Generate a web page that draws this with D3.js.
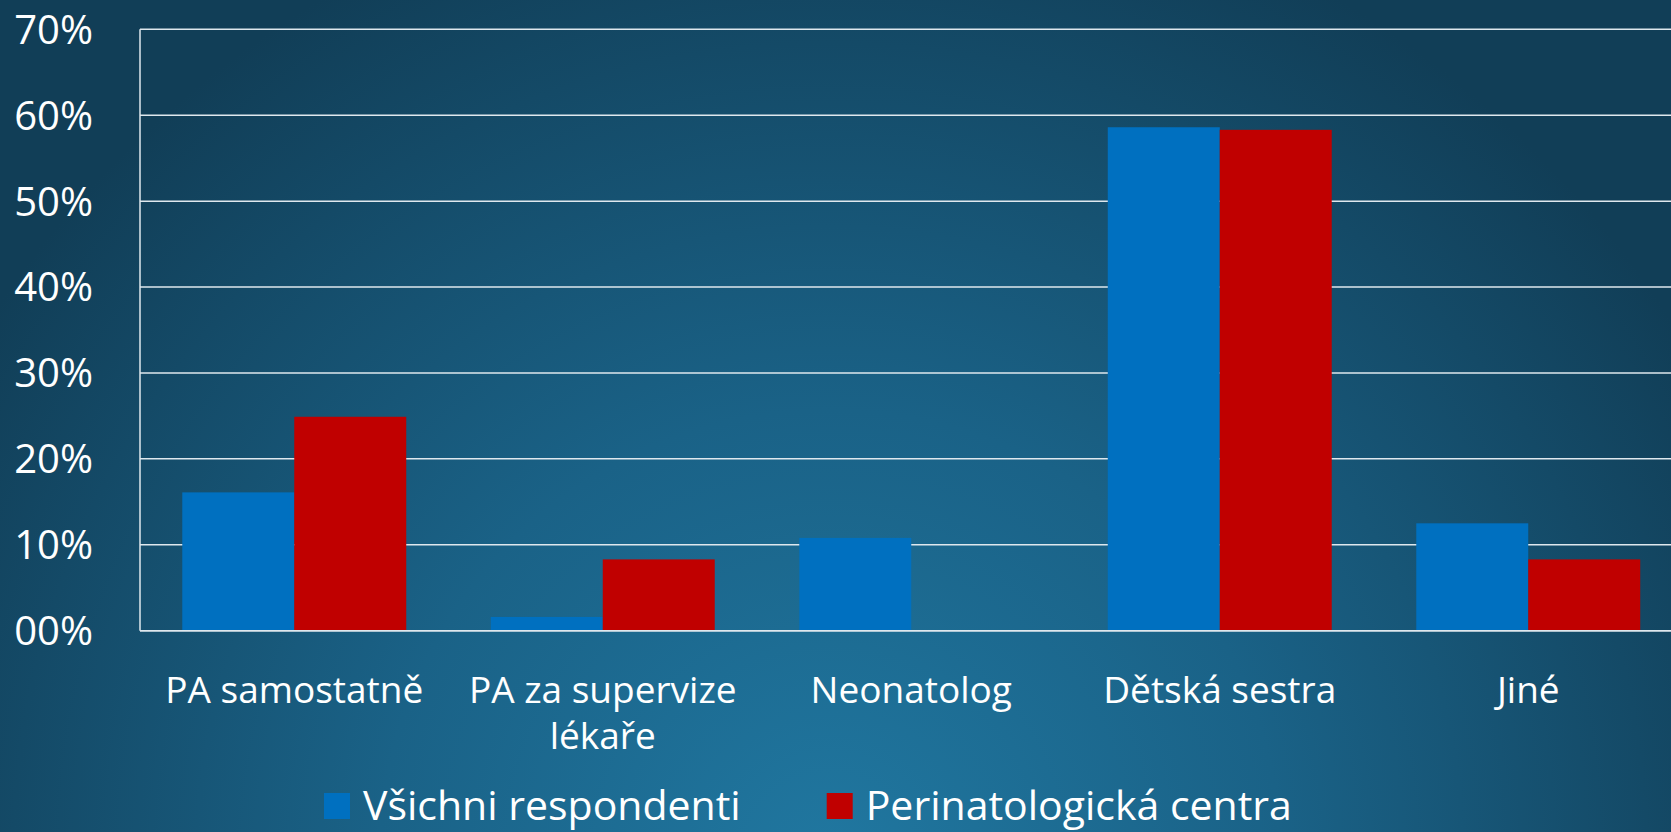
<!DOCTYPE html>
<html>
<head>
<meta charset="utf-8">
<script src="https://cdn.jsdelivr.net/npm/d3@7"></script>
<style>
  html, body { margin: 0; padding: 0; overflow: hidden; background: #134560; }
  svg { display: block; font-family: "Open Sans", sans-serif; }
</style>
</head>
<body>
<div id="chart"></div>
<script>
const CATEGORIES = ["PA samostatně", "PA za supervize lékaře", "Neonatolog", "Dětská sestra", "Jiné"];
const SERIES = ["Všichni respondenti", "Perinatologická centra"];
const ALL_RESPONDENTS = [0.161, 0.016, 0.108, 0.586, 0.125];
const PERINATAL_CENTRES = [0.249, 0.083, 0, 0.583, 0.083];
const Y_TICKS = [0, 0.1, 0.2, 0.3, 0.4, 0.5, 0.6, 0.7];
const COLORS = ["#0070c0", "#c00000"];

const WIDTH = 1671;
const HEIGHT = 832;

const data = CATEGORIES.map((name, i) => ({
  name,
  values: [ALL_RESPONDENTS[i], PERINATAL_CENTRES[i]]
}));

const svg = d3.select("#chart")
              .append("svg")
              .attr("width", WIDTH)
              .attr("height", HEIGHT);

// background: dark navy at the top, lighter teal glow at the bottom centre
const grad = svg.append("defs")
                .append("radialGradient")
                .attr("id", "bg")
                .attr("gradientUnits", "userSpaceOnUse")
                .attr("cx", 830).attr("cy", 860)
                .attr("r", 1000);
grad.append("stop").attr("offset", "0%").attr("stop-color", "#2077a0");
grad.append("stop").attr("offset", "45%").attr("stop-color", "#1a6287");
grad.append("stop").attr("offset", "100%").attr("stop-color", "#113e57");

svg.append("rect")
   .attr("width", WIDTH)
   .attr("height", HEIGHT)
   .attr("fill", "url(#bg)");

const x = d3.scaleBand()
            .domain(CATEGORIES)
            .range([140, 1682.5])
            .paddingInner(0.274)
            .paddingOuter(0.137);

const xSeries = d3.scaleBand()
                  .domain(SERIES)
                  .range([0, x.bandwidth()]);

const y = d3.scaleLinear()
            .domain([0, 0.7])
            .range([630.7, 29.3]);

// gridlines
svg.append("g")
   .selectAll("line")
   .data(Y_TICKS)
   .join("line")
   .attr("x1", 140)
   .attr("x2", WIDTH)
   .attr("y1", d => y(d))
   .attr("y2", d => y(d))
   .attr("stroke", "#dfe8ee")
   .attr("stroke-width", 1.5);

svg.append("line")
   .attr("x1", 140).attr("x2", 140)
   .attr("y1", y(0.7)).attr("y2", y(0))
   .attr("stroke", "#dfe8ee")
   .attr("stroke-width", 1.5);

// y tick labels
const fmt = d => String(Math.round(d * 100)).padStart(2, "0") + "%";
svg.append("g")
   .selectAll("text")
   .data(Y_TICKS)
   .join("text")
   .attr("x", 93)
   .attr("y", d => y(d))
   .attr("dy", "0.36em")
   .attr("text-anchor", "end")
   .attr("fill", "#ffffff")
   .style("font-size", "40px")
   .text(fmt);

// bars
const groups = svg.append("g")
                  .selectAll("g")
                  .data(data)
                  .join("g")
                  .attr("transform", d => `translate(${x(d.name)},0)`);

groups.selectAll("rect")
      .data(d => d.values.map((v, j) => ({ series: SERIES[j], value: v, j })))
      .join("rect")
      .attr("x", d => xSeries(d.series))
      .attr("width", xSeries.bandwidth())
      .attr("y", d => y(d.value))
      .attr("height", d => y(0) - y(d.value))
      .attr("fill", d => COLORS[d.j]);

// redraw baseline over bars
svg.append("line")
   .attr("x1", 140).attr("x2", WIDTH)
   .attr("y1", y(0)).attr("y2", y(0))
   .attr("stroke", "#dfe8ee")
   .attr("stroke-width", 1.5);

// category labels, wrapped to band width
const labels = svg.append("g")
                  .selectAll("text")
                  .data(CATEGORIES)
                  .join("text")
                  .attr("x", d => x(d) + x.bandwidth() / 2)
                  .attr("y", 703)
                  .attr("text-anchor", "middle")
                  .attr("fill", "#ffffff")
                  .style("font-size", "37px")
                  .text(d => d);

const wrap = (textSel, maxWidth) => {
  textSel.each(function () {
    const text = d3.select(this);
    const words = text.text().split(" ");
    const cx = text.attr("x");
    text.text(null);
    let line = [];
    let tspan = text.append("tspan").attr("x", cx);
    words.forEach(word => {
      line.push(word);
      tspan.text(line.join(" "));
      if (tspan.node().getComputedTextLength() > maxWidth && line.length > 1) {
        line.pop();
        tspan.text(line.join(" "));
        line = [word];
        tspan = text.append("tspan").attr("x", cx).attr("dy", "1.25em").text(word);
      }
    });
  });
};
labels.call(wrap, x.step() * 0.9);

// legend
const legend = svg.append("g").attr("transform", "translate(324,793)");
let offset = 0;
SERIES.forEach((name, i) => {
  const item = legend.append("g").attr("transform", `translate(${offset},0)`);
  item.append("rect")
      .attr("width", 26)
      .attr("height", 26)
      .attr("fill", COLORS[i]);
  const t = item.append("text")
                .attr("x", 39)
                .attr("y", 27)
                .attr("fill", "#ffffff")
                .style("font-size", "41px")
                .text(name);
  offset += 39 + t.node().getComputedTextLength() + 86;
});
</script>
</body>
</html>
